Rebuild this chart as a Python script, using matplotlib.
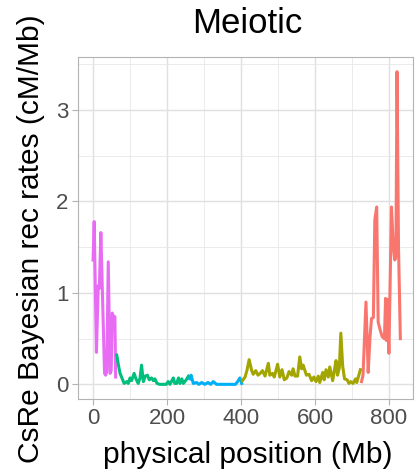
import matplotlib
matplotlib.use("Agg")
import matplotlib.pyplot as plt
from matplotlib.ticker import MultipleLocator

plt.rcParams['font.family'] = ['Liberation Sans', 'DejaVu Sans']

# recombination rate segments, one per colour group
x_mag = [0, 3, 9, 14, 17, 21, 31, 34, 37, 41, 46, 49, 52, 56, 59, 61]
y_mag = [1.36, 1.78, 0.35, 1.08, 1.05, 1.66, 0.12, 0.10, 0.14, 1.34, 0.12, 0.15, 0.78, 0.72, 0.74, 0.08]

x_grn = [64, 69, 73, 79, 84, 91, 95, 100, 104, 111, 116, 122, 127, 131, 136, 141, 147, 152,
         158, 163, 167, 173, 180, 190, 198, 203, 208, 217, 221, 226, 231, 235, 240, 244, 252, 258]
y_grn = [0.32, 0.20, 0.12, 0.06, 0.01, 0.03, 0.01, 0.07, 0.04, 0.12, 0.06, 0.01, 0.07, 0.21, 0.03,
         0.09, 0.10, 0.05, 0.07, 0.04, 0.06, 0.01, 0.0, 0.0, 0.0, 0.03, 0.0, 0.07, 0.01, 0.01, 0.07,
         0.01, 0.06, 0.01, 0.05, 0.09]

x_blu = [262, 265, 271, 280, 286, 294, 302, 311, 318, 325, 334, 345, 360, 375, 385, 391, 397, 402]
y_blu = [0.06, 0.10, 0.01, 0.02, 0.0, 0.02, 0.0, 0.02, 0.0, 0.03, 0.0, 0.0, 0.0, 0.0, 0.0, 0.03, 0.07, 0.01]

x_olv = [404, 411, 416, 422, 429, 433, 440, 446, 452, 458, 465, 474, 478, 485, 490, 499, 505, 511,
         517, 524, 530, 537, 541, 546, 553, 559, 564, 568, 573, 577, 584, 591, 597, 603, 609, 613,
         621, 625, 630, 636, 640, 648, 652, 657, 661, 666, 670, 675, 680, 687, 692, 697, 703, 710,
         713, 718, 723]
y_olv = [0.04, 0.08, 0.15, 0.27, 0.15, 0.11, 0.15, 0.10, 0.12, 0.15, 0.09, 0.23, 0.10, 0.12, 0.08,
         0.22, 0.08, 0.16, 0.05, 0.07, 0.14, 0.10, 0.17, 0.09, 0.09, 0.30, 0.17, 0.21, 0.15, 0.10,
         0.11, 0.04, 0.08, 0.03, 0.09, 0.02, 0.13, 0.05, 0.16, 0.08, 0.19, 0.04, 0.14, 0.26, 0.10,
         0.18, 0.56, 0.20, 0.06, 0.05, 0.01, 0.03, 0.01, 0.06, 0.02, 0.09, 0.16]

x_red = [726, 730, 738, 744, 749, 753, 758, 762, 767, 771, 776, 782, 788, 791, 793, 796, 800,
         807, 812, 816, 819, 822, 826, 831]
y_red = [0.03, 0.10, 0.90, 0.13, 0.52, 0.72, 0.73, 1.80, 1.94, 0.68, 0.60, 0.52, 0.50, 0.94, 0.48,
         0.93, 0.34, 1.94, 1.50, 1.36, 1.40, 3.42, 1.50, 0.50]

xticks = [0, 200, 400, 600, 800]
yticks = [0, 1, 2, 3]

fig = plt.figure(figsize=(4.16, 4.72), dpi=100)
ax = fig.add_axes([0.1882, 0.1557, 0.8053, 0.7242])

ax.plot(x_mag, y_mag, color='#E76BF3', lw=2.2)
ax.plot(x_grn, y_grn, color='#00BF7D', lw=2.2)
ax.plot(x_blu, y_blu, color='#00B0F6', lw=2.2)
ax.plot(x_olv, y_olv, color='#A3A500', lw=2.2)
ax.plot(x_red, y_red, color='#F8766D', lw=2.2)

ax.set_xlim(-40, 866)
ax.set_ylim(-0.155, 3.584)
ax.set_xticks(xticks)
ax.set_yticks(yticks)
ax.xaxis.set_minor_locator(MultipleLocator(100))
ax.yaxis.set_minor_locator(MultipleLocator(0.5))
ax.grid(which='major', color='#E0E0E0', lw=1)
ax.grid(which='minor', color='#E8E8E8', lw=0.6)
ax.set_axisbelow(True)
for s in ax.spines.values():
    s.set_color('#B3B3B3')
ax.tick_params(which='major', color='#B3B3B3', length=4, labelsize=16, labelcolor='#4D4D4D', pad=3)
ax.tick_params(which='minor', length=0)

ax.set_xlabel('physical position (Mb)', fontsize=21.5, va='center')
ax.xaxis.set_label_coords(0.505, -0.165)
ax.set_ylabel('CsRe Bayesian rec rates (cM/Mb)', fontsize=21.5, va='center')
ax.yaxis.set_label_coords(-0.141, 0.468)
ax.text(0.505, 1.097, 'Meiotic', transform=ax.transAxes, ha='center', va='center', fontsize=25)

fig.savefig('out.png', dpi=100)
